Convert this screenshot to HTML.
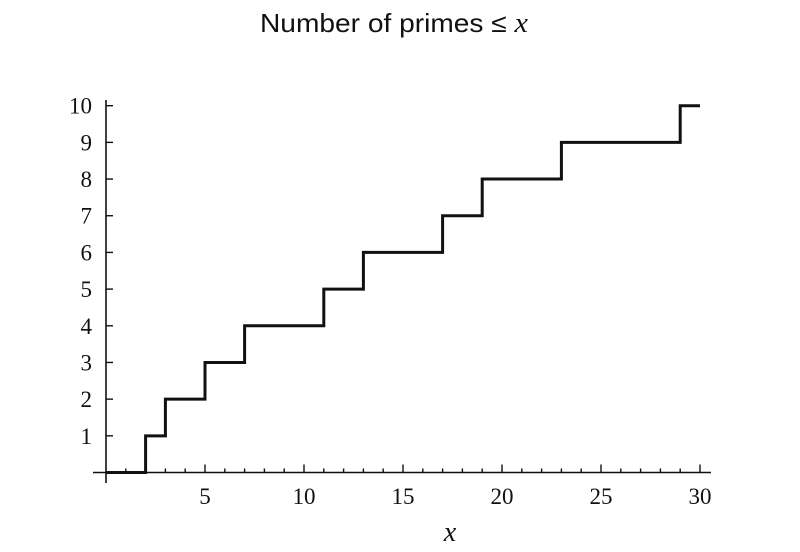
<!DOCTYPE html>
<html><head><meta charset="utf-8"><style>
html,body{margin:0;padding:0;background:#fff;}
svg{display:block;}
</style></head><body>
<svg id="chart" width="800" height="552" xmlns="http://www.w3.org/2000/svg">
<text x="394" y="32" text-anchor="middle" font-family="Liberation Sans, sans-serif" font-size="26" fill="#111" textLength="268" lengthAdjust="spacingAndGlyphs">Number of primes ≤ <tspan font-family="Liberation Serif, serif" font-style="italic" font-size="28">x</tspan></text>
<text x="450" y="541" text-anchor="middle" font-family="Liberation Serif, serif" font-style="italic" font-size="28" fill="#111">x</text>
<g id="axes"></g>
<g id="series"></g>
</svg>
<script>
const stepXs = [0, 2, 3, 5, 7, 11, 13, 17, 19, 23, 29, 30];
const stepYs = [0, 1, 2, 3, 4, 5, 6, 7, 8, 9, 10];
const xTicks = [5, 10, 15, 20, 25, 30];
const yTicks = [1, 2, 3, 4, 5, 6, 7, 8, 9, 10];
const NS = 'http://www.w3.org/2000/svg';
const X0 = 106, XS = 19.8, Y0 = 472.5, YS = 36.68;
function sx(v){return X0 + v*XS;}
function sy(v){return Y0 - v*YS;}
const axes = document.getElementById('axes');
const series = document.getElementById('series');
function mk(tag, attrs, parent){const e=document.createElementNS(NS,tag);for(const k in attrs)e.setAttribute(k,attrs[k]);parent.appendChild(e);return e;}
let l = mk('line',{x1:93,y1:Y0,x2:711,y2:Y0,stroke:'#111','stroke-width':1.6},axes);


l = mk('line',{x1:X0,y1:100,x2:X0,y2:483,stroke:'#111','stroke-width':1.6},axes);


for(let i=1;i<=30;i++){
  const major = i%5===0;
  const t = mk('line',{x1:sx(i),y1:Y0,x2:sx(i),y2:Y0-(major?8:4),stroke:'#111','stroke-width':1.4},axes);
  
  
}
xTicks.forEach(v=>{
  const t = mk('text',{x:sx(v),y:504,'text-anchor':'middle','font-family':'Liberation Serif, serif','font-size':23,fill:'#111'},axes);
  t.textContent = v;
  
  
});
yTicks.forEach(v=>{
  const t = mk('line',{x1:X0,y1:sy(v),x2:X0+7,y2:sy(v),stroke:'#111','stroke-width':1.4},axes);
  
  
  const s = mk('text',{x:92,y:sy(v)+8,'text-anchor':'end','font-family':'Liberation Serif, serif','font-size':23,fill:'#111'},axes);
  s.textContent = v;
  
  
});
let d = 'M'+sx(stepXs[0])+' '+sy(stepYs[0]);
for(let i=1;i<stepXs.length;i++){
  d += ' L'+sx(stepXs[i])+' '+sy(stepYs[i-1]);
  if(i<stepYs.length) d += ' L'+sx(stepXs[i])+' '+sy(stepYs[i]);
}
const p = mk('path',{d:d,fill:'none',stroke:'#111','stroke-width':3,'stroke-linejoin':'miter'},series);


</script>
</body></html>
